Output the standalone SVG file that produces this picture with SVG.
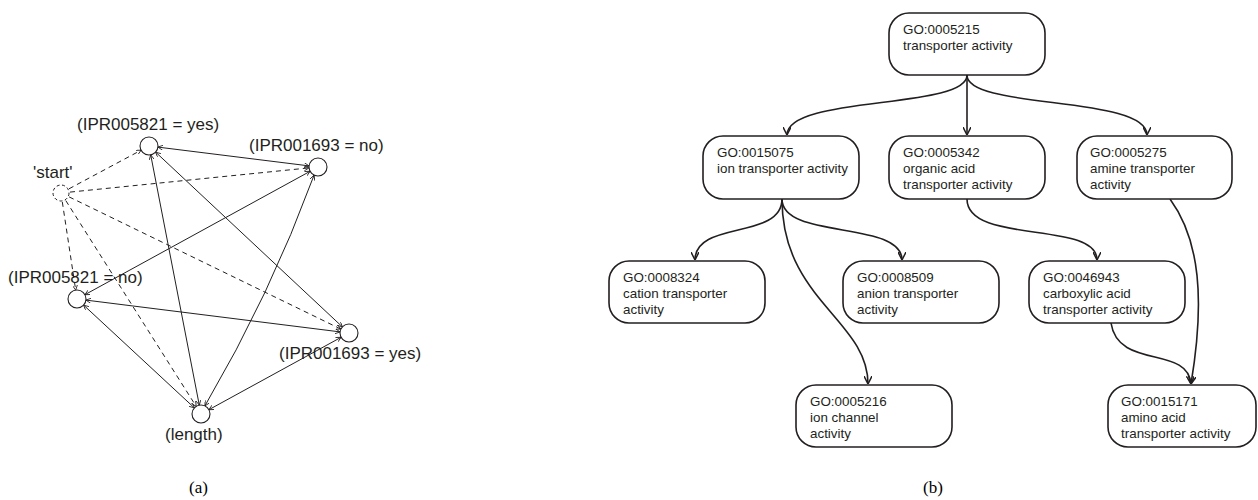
<svg xmlns="http://www.w3.org/2000/svg" width="1258" height="500" viewBox="0 0 1258 500">
<style>
.lbl{font-family:"Liberation Sans",Arial,sans-serif;font-size:17px;fill:#231f20}
.cap{font-family:"Liberation Serif","Times New Roman",serif;font-size:17px;fill:#000}
.gt{font-family:"Liberation Sans",Arial,sans-serif;font-size:13.4px;fill:#231f20}
.circ{fill:#fff;stroke:#231f20;stroke-width:1.1}
.box{fill:#fff;stroke:#231f20;stroke-width:1.6}
.se{fill:none;stroke:#231f20;stroke-width:1;marker-start:url(#sa);marker-end:url(#sa)}
.de{fill:none;stroke:#231f20;stroke-width:1;stroke-dasharray:5 4;marker-end:url(#sa)}
.ge{fill:none;stroke:#231f20;stroke-width:1.6;marker-end:url(#ga)}
</style>
<defs>
<marker id="sa" viewBox="0 0 6 6" refX="6" refY="3" markerWidth="5" markerHeight="5" markerUnits="userSpaceOnUse" orient="auto-start-reverse">
<path d="M0,0 L6,3 L0,6" fill="none" stroke="#231f20" stroke-width="1"/>
</marker>
<marker id="ga" viewBox="0 0 8 8" refX="8" refY="4" markerWidth="8" markerHeight="8" markerUnits="userSpaceOnUse" orient="auto">
<path d="M0,0 L8,4 L0,8" fill="none" stroke="#231f20" stroke-width="1.5"/>
</marker>
</defs>
<rect width="1258" height="500" fill="#fff"/>
<g id="connectors">
<line class="se" x1="157.9" y1="147.1" x2="309.1" y2="165.9"/>
<line class="se" x1="150.7" y1="154.8" x2="199.3" y2="405.2"/>
<line class="se" x1="155.6" y1="152.1" x2="342.4" y2="326.9"/>
<line class="se" x1="310.1" y1="171.3" x2="84.9" y2="294.7"/>
<path class="se" d="M314.1,175.1 Q270,295 204.9,405.9"/>
<line class="se" x1="85.9" y1="300.1" x2="340.1" y2="331.9"/>
<line class="se" x1="83.6" y1="305.1" x2="194.4" y2="407.9"/>
<line class="se" x1="341.1" y1="337.3" x2="208.9" y2="409.7"/>
<line class="de" x1="69" y1="188.8" x2="141.1" y2="150.2"/>
<line class="de" x1="70" y1="192.1" x2="309" y2="167.9"/>
<line class="de" x1="62.3" y1="201.9" x2="75.7" y2="290.1"/>
<line class="de" x1="69.1" y1="196.9" x2="340.9" y2="329.1"/>
<line class="de" x1="65.8" y1="200.6" x2="196.2" y2="406.4"/>
<path class="ge" d="M967,75 C967,110 787,95 787,135"/>
<path class="ge" d="M967,75 L967,135"/>
<path class="ge" d="M967,75 C967,110 1147,95 1147,135"/>
<path class="ge" d="M782,199 C782,240 695,220 695,260"/>
<path class="ge" d="M782,199 C782,240 902,220 902,260"/>
<path class="ge" d="M782,199 C782,300 868,320 868,384"/>
<path class="ge" d="M967,199 C967,245 1097,220 1097,260"/>
<path class="ge" d="M1170,199 C1200,240 1205,300 1191,384"/>
<path class="ge" d="M1111,323 C1118,370 1188,345 1191,384"/>
</g>
<g id="n-start"><circle cx="61" cy="193" r="8" fill="#fff" stroke="#231f20" stroke-width="1" stroke-dasharray="3 2.5"/><text class="lbl" x="33" y="178">'start'</text></g>
<g id="n-ipr005821-yes"><circle class="circ" cx="149" cy="146" r="9"/><text class="lbl" x="77" y="130">(IPR005821 = yes)</text></g>
<g id="n-ipr001693-no"><circle class="circ" cx="318" cy="167" r="9"/><text class="lbl" x="249" y="151">(IPR001693 = no)</text></g>
<g id="n-ipr005821-no"><circle class="circ" cx="77" cy="299" r="9"/><text class="lbl" x="8" y="283">(IPR005821 = no)</text></g>
<g id="n-ipr001693-yes"><circle class="circ" cx="349" cy="333" r="9"/><text class="lbl" x="279" y="359">(IPR001693 = yes)</text></g>
<g id="n-length"><circle class="circ" cx="201" cy="414" r="9"/><text class="lbl" x="165" y="440">(length)</text></g>
<g id="n-go0005215"><rect class="box" x="889" y="13" width="156" height="62" rx="20"/><text class="gt" x="903" y="33.5">GO:0005215</text><text class="gt" x="903" y="49.5">transporter activity</text></g>
<g id="n-go0015075"><rect class="box" x="703" y="136" width="156" height="63" rx="20"/><text class="gt" x="717" y="157">GO:0015075</text><text class="gt" x="717" y="173">ion transporter activity</text></g>
<g id="n-go0005342"><rect class="box" x="889" y="136" width="156" height="63" rx="20"/><text class="gt" x="903" y="157">GO:0005342</text><text class="gt" x="903" y="173">organic acid</text><text class="gt" x="903" y="189">transporter activity</text></g>
<g id="n-go0005275"><rect class="box" x="1077" y="136" width="155" height="63" rx="20"/><text class="gt" x="1090" y="157">GO:0005275</text><text class="gt" x="1090" y="173">amine transporter</text><text class="gt" x="1090" y="189">activity</text></g>
<g id="n-go0008324"><rect class="box" x="609" y="261" width="156" height="62" rx="20"/><text class="gt" x="623" y="282">GO:0008324</text><text class="gt" x="623" y="298">cation transporter</text><text class="gt" x="623" y="314">activity</text></g>
<g id="n-go0008509"><rect class="box" x="843" y="261" width="156" height="62" rx="20"/><text class="gt" x="857" y="282">GO:0008509</text><text class="gt" x="857" y="298">anion transporter</text><text class="gt" x="857" y="314">activity</text></g>
<g id="n-go0046943"><rect class="box" x="1029" y="261" width="156" height="62" rx="20"/><text class="gt" x="1043" y="282">GO:0046943</text><text class="gt" x="1043" y="298">carboxylic acid</text><text class="gt" x="1043" y="314">transporter activity</text></g>
<g id="n-go0005216"><rect class="box" x="796" y="385" width="156" height="62" rx="20"/><text class="gt" x="810" y="406">GO:0005216</text><text class="gt" x="810" y="422">ion channel</text><text class="gt" x="810" y="438">activity</text></g>
<g id="n-go0015171"><rect class="box" x="1108" y="385" width="148" height="62" rx="20"/><text class="gt" x="1121" y="406">GO:0015171</text><text class="gt" x="1121" y="422">amino acid</text><text class="gt" x="1121" y="438">transporter activity</text></g>
<text class="cap" x="189" y="493">(a)</text>
<text class="cap" x="923" y="493">(b)</text>
</svg>
